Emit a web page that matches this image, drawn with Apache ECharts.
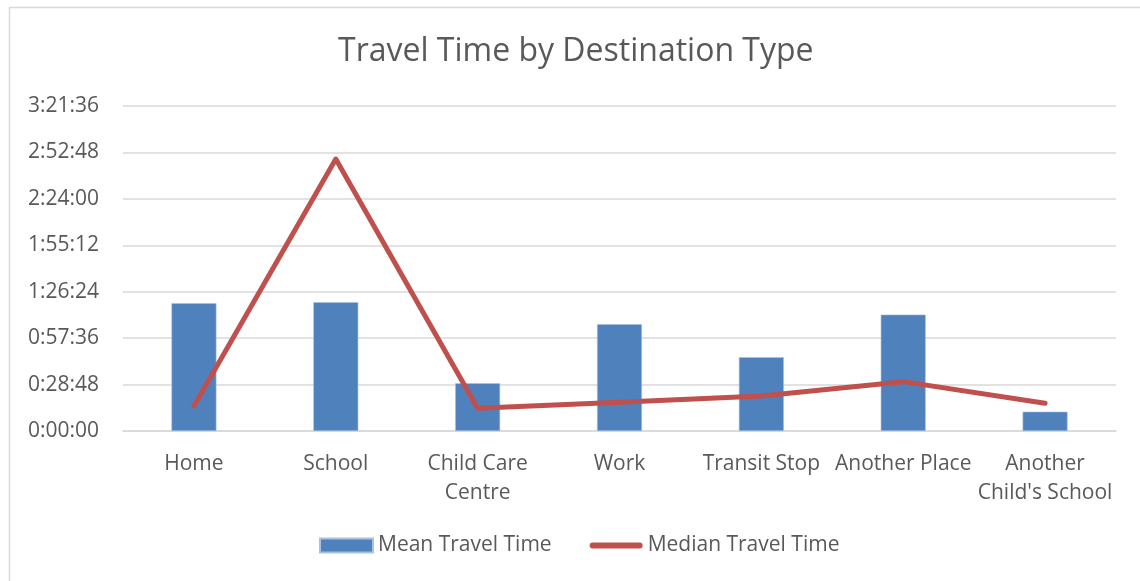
<!DOCTYPE html>
<html>
<head>
<meta charset="utf-8">
<script src="https://cdn.jsdelivr.net/npm/echarts@6/dist/echarts.min.js"></script>
<style>
  html, body { margin: 0; padding: 0; background: #fff; }
  #chart { width: 1140px; height: 581px; }
</style>
</head>
<body>
<div id="chart"></div>
<script>
// Destination types along the x axis
const categories = ['Home', 'School', 'Child Care\nCentre', 'Work', 'Transit Stop', 'Another Place', 'Another\nChild\'s School'];
// Travel times in seconds
const meanTravelTime = [4757, 4795, 1777, 3975, 2746, 4333, 719];
const medianTravelTime = [931, 10122, 846, 1069, 1304, 1837, 1032];
// Y axis: 0:00:00 to 3:21:36 in steps of 0:28:48
const yMin = 0;
const yMax = 12096;
const yStep = 1728;

function hms(sec) {
  const h = Math.floor(sec / 3600);
  const m = Math.floor((sec % 3600) / 60);
  const s = Math.round(sec % 60);
  return h + ':' + String(m).padStart(2, '0') + ':' + String(s).padStart(2, '0');
}

const font = '"Open Sans", "Liberation Sans", sans-serif';
const textColor = '#595959';

const chart = echarts.init(document.getElementById('chart'), null, { renderer: 'canvas' });
chart.setOption({
  animation: false,
  backgroundColor: '#fff',
  graphic: [{
    type: 'rect',
    shape: { x: 9.5, y: 7.5, width: 1160, height: 600 },
    style: { fill: 'none', stroke: '#D9D9D9', lineWidth: 1.5 },
    silent: true
  }],
  title: {
    text: 'Travel Time by Destination Type',
    left: 333,
    top: 31,
    textStyle: { fontFamily: font, fontSize: 32, fontWeight: 'normal', color: textColor }
  },
  legend: {
    bottom: 20,
    left: 314,
    itemWidth: 53,
    itemHeight: 14,
    itemGap: 38,
    textStyle: { fontFamily: font, fontSize: 21, color: textColor },
    data: [
      { name: 'Mean Travel Time', icon: 'rect' },
      { name: 'Median Travel Time', icon: 'path://M5.5,0 L94.5,0 A5.5,5.5 0 0 1 94.5,11 L5.5,11 A5.5,5.5 0 0 1 5.5,0 Z' }
    ]
  },
  grid: { left: 123, right: 24, top: 106, bottom: 150, containLabel: false },
  xAxis: {
    type: 'category',
    data: categories,
    axisLine: { show: true, lineStyle: { color: '#D9D9D9', width: 1.5 } },
    axisTick: { show: false },
    axisLabel: {
      fontFamily: font, fontSize: 21, color: textColor,
      lineHeight: 29, margin: 19, interval: 0
    }
  },
  yAxis: {
    type: 'value',
    min: yMin,
    max: yMax,
    interval: yStep,
    axisLine: { show: false },
    axisTick: { show: false },
    splitLine: { lineStyle: { color: '#D9D9D9', width: 1.5 } },
    axisLabel: {
      fontFamily: font, fontSize: 21, color: textColor, margin: 24,
      formatter: v => hms(v)
    }
  },
  series: [
    {
      name: 'Mean Travel Time',
      type: 'bar',
      data: meanTravelTime,
      barWidth: '31.7%',
      itemStyle: { color: '#4F81BD', borderColor: '#A9C0DE', borderWidth: 0.6 }
    },
    {
      name: 'Median Travel Time',
      type: 'line',
      data: medianTravelTime,
      symbol: 'none',
      lineStyle: { color: '#C0504D', width: 5, cap: 'round', join: 'round' },
      itemStyle: { color: '#C0504D' }
    }
  ]
});
</script>
</body>
</html>
